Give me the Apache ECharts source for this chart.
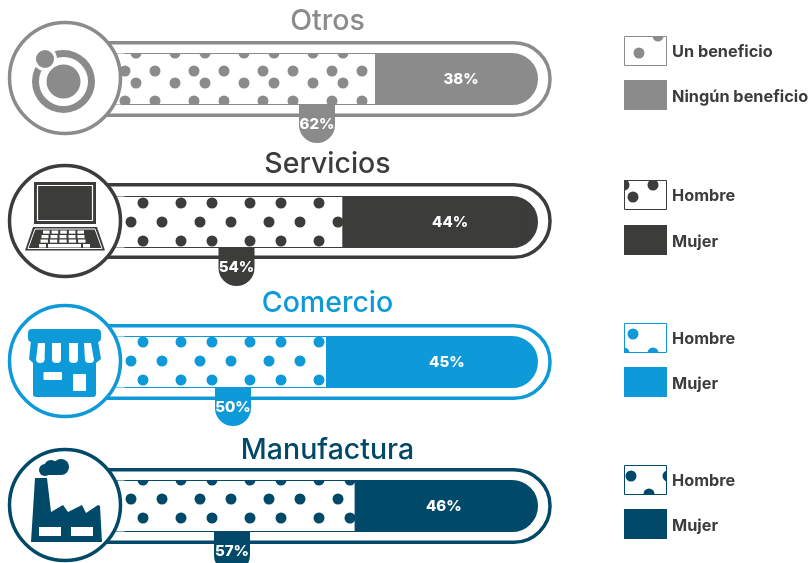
<!DOCTYPE html>
<html><head><meta charset="utf-8">
<style>html,body{margin:0;padding:0;background:#fff}#c{width:811px;height:563px}</style>
<script src="https://cdn.jsdelivr.net/npm/echarts@6/dist/echarts.min.js"></script>
</head><body><div id="c"></div>
<script>
// ---- data ----
const categories = ['Otros', 'Servicios', 'Comercio', 'Manufactura'];
const dottedValues = [62, 54, 50, 57];
const solidValues = [38, 44, 45, 46];
const dottedNames = ['Un beneficio', 'Hombre', 'Hombre', 'Hombre'];
const solidNames = ['Ningún beneficio', 'Mujer', 'Mujer', 'Mujer'];
// ---- styles / layout ----
const colors = ['#8b8b8b', '#3c3c3b', '#0e99d8', '#004968'];
const barTops = [53, 196, 336, 480];
const ringTops = [41, 183, 324, 468];
const circleYs = [78, 221, 361, 505];
const titleYs = [21, 164, 303, 450];
const tabXs = [317, 236.5, 233, 232];
const labelNudge = [7.5, 17, 28, -3];
const legendTops = [[36, 80], [180, 225], [323, 367], [465, 509]];
const tiles = [
  {h: 30, oy: 60, a: [[10, 11], [40, 11]], b: [[21, 23], [60, 23]]},
  {h: 38, oy: 184, a: [[28, 19], [66, 19]], b: [[16, 0], [47, 0]]},
  {h: 38, oy: 323, a: [[28, 19], [66, 19]], b: [[16, 0], [47, 0]]},
  {h: 38, oy: 480, a: [[28, 0], [66, 0]], b: [[16, 19], [47, 19]]}
];
const swatchDots = [
  [[15, 17], [34, 0]],
  [[9, 17], [29, 5], [0, 5]],
  [[9, 11], [29, 30], [0, 30]],
  [[7, 11], [44, 11], [25, 29]]
];
const GL = 123, GW = 415, AXIS_MAX = 101.7, BH = 52, DOT = 5.5;

function dotTile(color, t) {
  const w = 69, cv = document.createElement('canvas');
  cv.width = w; cv.height = t.h;
  const g = cv.getContext('2d');
  g.fillStyle = '#fff';
  g.fillRect(0, 0, w, t.h);
  g.fillStyle = color;
  t.a.concat(t.b).forEach(([x, y]) => {
    [-w, 0, w].forEach(dx => [-t.h, 0, t.h].forEach(dy => {
      g.beginPath(); g.arc(x + dx, y + dy, DOT, 0, Math.PI * 2); g.fill();
    }));
  });
  return cv;
}
function swatchCanvas(color, dots) {
  const cv = document.createElement('canvas');
  cv.width = 43; cv.height = 30;
  const g = cv.getContext('2d');
  g.fillStyle = '#fff';
  g.fillRect(0, 0, 43, 30);
  g.fillStyle = color;
  dots.forEach(([x, y]) => { g.beginPath(); g.arc(x, y, DOT, 0, Math.PI * 2); g.fill(); });
  return cv;
}

const grid = [], xAxis = [], yAxis = [], series = [], title = [], graphic = [];
categories.forEach((name, i) => {
  const c = colors[i], top = barTops[i];
  const tile = dotTile(c, tiles[i]);
  grid.push({left: GL, top: top, width: GW, height: BH});
  xAxis.push({type: 'value', gridIndex: i, min: 0, max: AXIS_MAX, show: false});
  yAxis.push({type: 'category', gridIndex: i, data: [name], show: false});
  title.push({text: name, left: 322.5, top: titleYs[i] - 19, textAlign: 'center',
    textStyle: {fontFamily: 'Inter', fontWeight: 500, fontSize: 28.5, color: c}});
  series.push({
    type: 'bar', name: dottedNames[i], xAxisIndex: i, yAxisIndex: i, stack: 's' + i, barWidth: '100%',
    data: [dottedValues[i]], silent: true, animation: false,
    showBackground: true, backgroundStyle: {color: c, opacity: 1},
    itemStyle: {color: {image: tile, repeat: 'repeat', x: 115, y: tiles[i].oy},
      borderColor: c, borderWidth: 1}
  });
  series.push({
    type: 'bar', name: solidNames[i], xAxisIndex: i, yAxisIndex: i, stack: 's' + i, barWidth: '100%',
    data: [solidValues[i]], silent: true, animation: false,
    itemStyle: {color: c},
    label: {show: true, position: 'inside', offset: [labelNudge[i], 0], formatter: '{c}%', color: '#fff',
      fontFamily: 'Inter', fontWeight: 800, fontSize: 15}
  });
  const ry = ringTops[i], cy = circleYs[i];
  graphic.push(
    // the dotted rail runs on under the disc
    {type: 'rect', z: 3, shape: {x: 110, y: top - 0.5, width: 14.5, height: BH + 1},
      style: {fill: {image: tile, repeat: 'repeat', x: 115, y: tiles[i].oy}}},
    {type: 'line', z: 3, shape: {x1: 110, y1: top, x2: 125, y2: top}, style: {stroke: c, lineWidth: 1}},
    {type: 'line', z: 3, shape: {x1: 110, y1: top + BH, x2: 125, y2: top + BH}, style: {stroke: c, lineWidth: 1}},
    // mask rounds the bar end
    {type: 'rect', z: 3, shape: {x: 40 - 11, y: top - 11, width: 538 - 40 + 22, height: BH + 22, r: 37},
      style: {fill: 'none', stroke: '#fff', lineWidth: 22}},
    // outer capsule
    {type: 'rect', z: 4, shape: {x: 60, y: ry + 1.75, width: 490, height: 72.5, r: 36},
      style: {fill: 'none', stroke: c, lineWidth: 3.5}},
    // icon disc
    {type: 'circle', z: 5, shape: {cx: 65, cy: cy, r: 55.5}, style: {fill: '#fff', stroke: c, lineWidth: 3.5}},
    // tab
    {type: 'rect', z: 6, shape: {x: tabXs[i] - 18, y: top + BH - 1, width: 36, height: i === 3 ? 42 : 39, r: [0, 0, 18, 18]},
      style: {fill: c}},
    {type: 'text', z: 7, style: {text: dottedValues[i] + '%', x: tabXs[i], y: top + BH + 19, textAlign: 'center',
      textVerticalAlign: 'middle', fill: '#fff', font: '800 15px Inter'}}
  );
  // legend
  const [l1, l2] = legendTops[i];
  graphic.push(
    {type: 'image', z: 6, style: {image: swatchCanvas(c, swatchDots[i]), x: 624, y: l1, width: 43, height: 30}},
    {type: 'rect', z: 7, shape: {x: 624.5, y: l1 + 0.5, width: 42, height: 29}, style: {fill: 'none', stroke: c, lineWidth: 1}},
    {type: 'rect', z: 6, shape: {x: 624, y: l2, width: 43, height: 30}, style: {fill: c}},
    {type: 'text', z: 7, style: {text: dottedNames[i], x: 672, y: l1 + 16, textVerticalAlign: 'middle', fill: '#3c3c3b', font: '700 16.3px Inter'}},
    {type: 'text', z: 7, style: {text: solidNames[i], x: 672, y: l2 + 17.5, textVerticalAlign: 'middle', fill: '#3c3c3b', font: '700 16.3px Inter'}}
  );
});

// icons (z 6) -------------------------------------------------
const Z = 6, wh = '#fff';
function R(x, y, w, h, fill, r, extra) {
  return Object.assign({type: 'rect', z: Z, shape: {x, y, width: w, height: h, r: r || 0}, style: {fill}}, extra || {});
}
function C(cx, cy, r, fill, z) { return {type: 'circle', z: z || Z, shape: {cx, cy, r}, style: {fill}}; }
function P(points, fill, z, stroke) {
  return {type: 'polygon', z: z || Z, shape: {points}, style: stroke ? {fill: 'none', stroke: stroke, lineWidth: 1} : {fill}};
}
// Otros
const g0 = colors[0];
graphic.push(
  {type: 'ring', z: Z, shape: {cx: 63.5, cy: 81.5, r: 31.5, r0: 24.5}, style: {fill: g0}},
  C(63.5, 81.5, 17, g0, Z),
  C(45, 59, 12, wh, Z + 1),
  C(45, 59, 9, g0, Z + 2)
);
// Servicios laptop
const g1 = colors[1];
graphic.push(
  R(34, 182, 62, 42, g1),
  {type: 'rect', z: Z + 1, shape: {x: 37.5, y: 185.5, width: 55, height: 35}, style: {fill: g1, stroke: wh, lineWidth: 1.2}},
  P([[33, 227], [97, 227], [105, 250.5], [25, 250.5]], g1),
  P([[35, 229], [95, 229], [102, 248.5], [28, 248.5]], g1, Z + 1, wh)
);
[[43, 230.5], [41.5, 235], [40.5, 239.5]].forEach(([x0, y], ri) => {
  for (let k = 0; k < 5; k++) {
    graphic.push(R(x0 + k * (8.6 + ri * 0.4), y, 6.6 + ri * 0.4, 3.2, wh, 0, {z: Z + 1}));
  }
});
graphic.push(R(39, 244, 7, 3.5, wh, 0, {z: Z + 1}), R(48, 244, 33, 3.5, wh, 0, {z: Z + 1}), R(83, 244, 7, 3.5, wh, 0, {z: Z + 1}));
// Comercio store
const g2 = colors[2];
graphic.push(
  R(28, 329, 73, 13, g2, 4),
  R(33, 340, 63, 57, g2, 3),
  P([[31, 341], [98, 341], [101, 359], [96, 363], [33, 363], [29, 359]], g2),
  P([[38, 343], [45, 343], [44.5, 360], [36, 360]], wh, Z + 1),
  P([[52, 343], [61, 343], [61, 360], [52, 360]], wh, Z + 1),
  P([[69, 343], [78, 343], [78, 360], [69, 360]], wh, Z + 1),
  P([[84, 343], [91, 343], [94, 360], [85, 360]], wh, Z + 1),
  R(36, 358, 8.5, 5, wh, [0, 0, 4, 4], {z: Z + 1}),
  R(52, 358, 9, 5, wh, [0, 0, 4, 4], {z: Z + 1}),
  R(69, 358, 9, 5, wh, [0, 0, 4, 4], {z: Z + 1}),
  R(85, 358, 9, 5, wh, [0, 0, 4, 4], {z: Z + 1}),
  R(43.5, 372, 18.5, 8, wh, 1, {z: Z + 1}),
  R(73, 374, 13, 17, wh, 1, {z: Z + 1})
);
// Manufactura factory
const g3 = colors[3];
graphic.push(
  P([[35, 478], [47, 478], [51, 512], [63, 505], [68, 512], [82, 505], [86, 513], [98, 505], [100, 506], [102, 542], [31, 542]], g3),
  R(39, 527, 22, 9, wh, 0, {z: Z + 1}),
  R(71, 527, 22, 9, wh, 0, {z: Z + 1}),
  C(45, 470, 6, g3), C(51, 467, 7, g3), C(61, 467, 8, g3), R(44, 468, 18, 7, g3, 3)
);

const chart = echarts.init(document.getElementById('c'), null, {renderer: 'canvas'});
chart.setOption({animation: false, backgroundColor: '#fff', title, grid, xAxis, yAxis, series, graphic: {elements: graphic}});
</script></body></html>
